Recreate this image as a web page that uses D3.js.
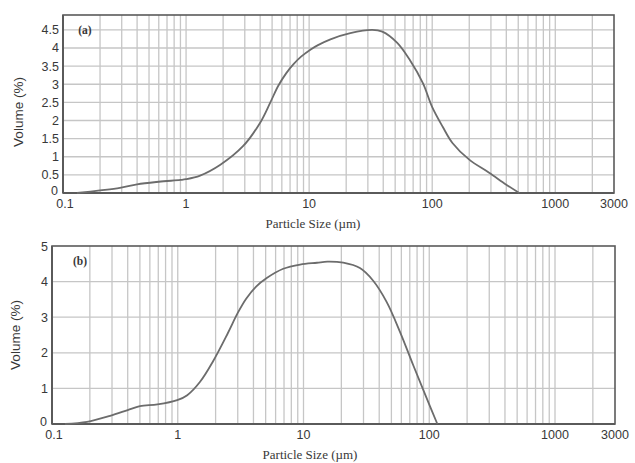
<!DOCTYPE html>
<html>
<head>
<meta charset="utf-8">
<script src="https://cdn.jsdelivr.net/npm/d3@7"></script>
<style>
  html, body { margin: 0; padding: 0; background: #fff; }
  svg { display: block; }
</style>
</head>
<body>
<svg id="chart" width="635" height="463"></svg>
<script>
// ---- Data ----
const sizesA = [0.13, 0.2, 0.29, 0.4, 0.6, 0.9, 1.0, 1.3, 1.9, 2.9, 4.0, 4.84, 5.6, 6.5, 7.5, 8.6, 10.3, 11.8, 14.9, 21.6, 32.6, 39.3, 52, 66, 84, 100, 122, 146, 200, 290, 400, 510];
const volumeA = [0, 0.07, 0.14, 0.24, 0.31, 0.36, 0.38, 0.48, 0.78, 1.29, 1.94, 2.5, 2.95, 3.3, 3.56, 3.76, 3.96, 4.08, 4.24, 4.41, 4.5, 4.45, 4.14, 3.66, 3.03, 2.37, 1.82, 1.38, 0.92, 0.56, 0.23, 0];

const sizesB = [0.127, 0.19, 0.29, 0.4, 0.5, 0.69, 0.99, 1.19, 1.5, 1.9, 2.5, 3.0, 3.5, 4.2, 5.1, 6.9, 9.4, 12.8, 15.5, 20.7, 28.1, 35.7, 45.8, 58.5, 74.6, 93.2, 116];
const volumeB = [0, 0.06, 0.23, 0.39, 0.5, 0.55, 0.67, 0.81, 1.18, 1.75, 2.55, 3.12, 3.52, 3.86, 4.1, 4.36, 4.48, 4.53, 4.56, 4.53, 4.38, 4.03, 3.43, 2.59, 1.65, 0.81, 0];

const xTickValues = [0.1, 1, 10, 100, 1000, 3000];
const xTickLabels = ["0.1", "1", "10", "100", "1000", "3000"];
const yTicksA = [0, 0.5, 1, 1.5, 2, 2.5, 3, 3.5, 4, 4.5];
const yTicksB = [0, 1, 2, 3, 4, 5];
const panelLabels = ["(a)", "(b)"];
const xTitle = "Particle Size (\u00b5m)";
const yTitle = "Volume (%)";

// ---- Drawing ----
const svg = d3.select("#chart");

const gridColor = "#c6c6c6";
const frameColor = "#5a5a5a";
const lineColor = "#6c6c6c";
const textColor = "#383838";

// gridline x positions: k * 10^n inside (0.1, 3000)
const xGrid = [];
for (let n = -1; n <= 3; n++) {
  for (let k = 1; k <= 9; k++) {
    const v = k * Math.pow(10, n);
    if (v > 0.1 && v < 3000) xGrid.push(v);
  }
}

function panel(cfg) {
  const x = d3.scaleLog().domain([0.1, 3000]).range([cfg.left, cfg.right]);
  const y = d3.scaleLinear().domain([0, cfg.yMax]).range([cfg.bottom, cfg.top]);
  const g = svg.append("g");

  // vertical gridlines
  g.selectAll(".vg").data(xGrid).enter().append("line")
    .attr("x1", d => x(d)).attr("x2", d => x(d))
    .attr("y1", cfg.top).attr("y2", cfg.bottom)
    .attr("stroke", gridColor).attr("stroke-width", 1.3);

  // horizontal gridlines
  g.selectAll(".hg").data(cfg.yTicks.filter(v => v > 0 && v < cfg.yMax)).enter().append("line")
    .attr("x1", cfg.left).attr("x2", cfg.right)
    .attr("y1", d => y(d)).attr("y2", d => y(d))
    .attr("stroke", gridColor).attr("stroke-width", 1.3);

  // frame
  g.append("rect")
    .attr("x", cfg.left).attr("y", cfg.top)
    .attr("width", cfg.right - cfg.left).attr("height", cfg.bottom - cfg.top)
    .attr("fill", "none").attr("stroke", frameColor).attr("stroke-width", 1.6);
  // heavier axes (left + bottom)
  g.append("line").attr("x1", cfg.left).attr("x2", cfg.left).attr("y1", cfg.top).attr("y2", cfg.bottom)
    .attr("stroke", frameColor).attr("stroke-width", 2);
  g.append("line").attr("x1", cfg.left).attr("x2", cfg.right).attr("y1", cfg.bottom).attr("y2", cfg.bottom)
    .attr("stroke", frameColor).attr("stroke-width", 2);

  // curve
  const data = cfg.sizes.map((s, i) => [s, cfg.values[i]]);
  const line = d3.line()
    .x(d => x(d[0])).y(d => y(d[1]))
    .curve(d3.curveCatmullRom.alpha(0.5));
  g.append("path").datum(data)
    .attr("d", line)
    .attr("fill", "none").attr("stroke", lineColor).attr("stroke-width", 1.8)
    .attr("stroke-linejoin", "round");

  // y tick labels
  g.selectAll(".yl").data(cfg.yTicks).enter().append("text")
    .attr("x", d => cfg.left - (d === 0 ? 5 : 4)).attr("y", d => y(d) - (d === 0 ? 3 : 0))
    .attr("dy", "0.36em")
    .attr("text-anchor", "end")
    .attr("font-family", "Liberation Sans, Arial, sans-serif")
    .attr("font-size", 12.5).attr("fill", textColor)
    .text(d => d);

  // x tick labels
  g.selectAll(".xl").data(xTickValues).enter().append("text")
    .attr("x", (d, i) => x(d) + (i === 0 ? 2 : 0)).attr("y", cfg.bottom + 15)
    .attr("text-anchor", "middle")
    .attr("font-family", "Liberation Sans, Arial, sans-serif")
    .attr("font-size", 12.5).attr("fill", textColor)
    .text((d, i) => xTickLabels[i]);

  // x title
  g.append("text")
    .attr("x", cfg.xTitleX).attr("y", cfg.bottom + 35)
    .attr("text-anchor", "middle")
    .attr("font-family", "Liberation Serif, Times New Roman, serif")
    .attr("font-size", 13).attr("fill", textColor)
    .text(xTitle);

  // y title
  g.append("text")
    .attr("transform", `translate(${cfg.yTitleX},${(cfg.top + cfg.bottom) / 2 + cfg.yTitleShift}) rotate(-90)`)
    .attr("text-anchor", "middle")
    .attr("font-family", "Liberation Sans, Arial, sans-serif")
    .attr("font-size", 13.5).attr("fill", textColor)
    .text(yTitle);

  // panel label
  g.append("text")
    .attr("x", cfg.left + cfg.labelDx).attr("y", cfg.top + cfg.labelDy)
    .attr("text-anchor", "middle")
    .attr("font-family", "Liberation Serif, Times New Roman, serif")
    .attr("font-size", 11.5).attr("font-weight", "bold").attr("fill", textColor)
    .text(cfg.label);
}

panel({
  left: 63, right: 614, top: 15, bottom: 193,
  yMax: 4.91, yTicks: yTicksA,
  sizes: sizesA, values: volumeA,
  label: panelLabels[0], labelDx: 22, labelDy: 19,
  xTitleX: 313, yTitleX: 23, yTitleShift: 8
});

panel({
  left: 52, right: 615, top: 246, bottom: 424,
  yMax: 5, yTicks: yTicksB,
  sizes: sizesB, values: volumeB,
  label: panelLabels[1], labelDx: 28, labelDy: 19,
  xTitleX: 310, yTitleX: 20, yTitleShift: 0
});
</script>
</body>
</html>
